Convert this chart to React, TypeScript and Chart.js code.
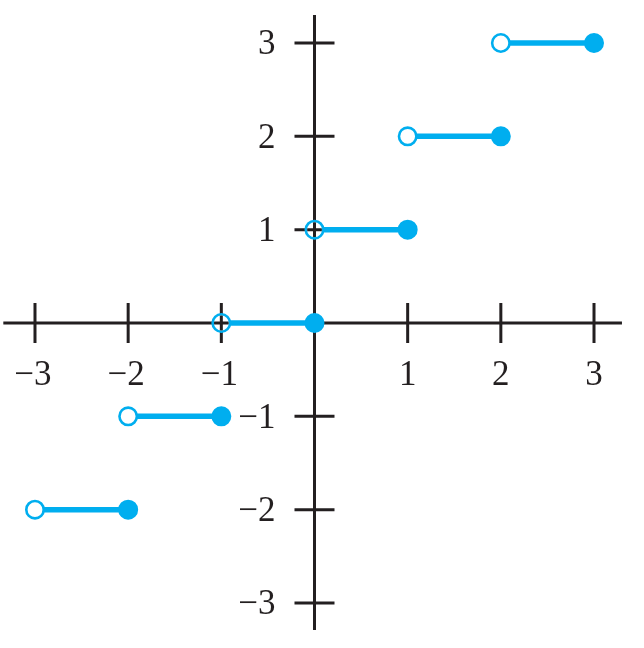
import React, { useEffect, useRef } from "react";
import { Chart, registerables } from "chart.js";

Chart.register(...registerables);

// Step function f(x) = ceil(x): each level has an open end (left) and closed end (right)
const levels = [-2, -1, 0, 1, 2, 3];
const openX = [-3, -2, -1, 0, 1, 2];
const closedX = [-2, -1, 0, 1, 2, 3];

const xTickValues = [-3, -2, -1, 1, 2, 3];
const yTickValues = [-3, -2, -1, 1, 2, 3];
const fmt = (v: number) => (v < 0 ? "\u2212" + Math.abs(v) : String(v));

// visible extent of drawn axes and the scale windows
const xAxisExtent = [-3.34, 3.3];
const yAxisExtent = [-3.29, 3.3];
const xScaleRange = [-3.3756, 3.5366];
const yScaleRange = [-3.4822, 3.4607];

const BLUE = "#00aeef";
const INK = "#231f20";
const OPEN_R = 8.7;
const OPEN_BW = 2.6;

function drawAxisLines(chart: any, withLabels: boolean) {
  const ctx = chart.ctx;
  const xs = chart.scales.x;
  const ys = chart.scales.y;
  const x0 = xs.getPixelForValue(0);
  const y0 = ys.getPixelForValue(0);
  ctx.save();
  ctx.strokeStyle = INK;
  ctx.lineCap = "butt";
  ctx.lineWidth = 3;
  ctx.beginPath();
  ctx.moveTo(xs.getPixelForValue(xAxisExtent[0]), y0);
  ctx.lineTo(xs.getPixelForValue(xAxisExtent[1]), y0);
  ctx.moveTo(x0, ys.getPixelForValue(yAxisExtent[0]));
  ctx.lineTo(x0, ys.getPixelForValue(yAxisExtent[1]));
  ctx.stroke();
  ctx.lineWidth = 3;
  ctx.beginPath();
  xTickValues.forEach((v) => {
    const px = xs.getPixelForValue(v);
    ctx.moveTo(px, y0 - 20);
    ctx.lineTo(px, y0 + 20);
  });
  yTickValues.forEach((v) => {
    const py = ys.getPixelForValue(v);
    ctx.moveTo(x0 - 20, py);
    ctx.lineTo(x0 + 20, py);
  });
  ctx.stroke();
  if (withLabels) {
    ctx.fillStyle = INK;
    ctx.font = '35px "Liberation Serif", "Times New Roman", serif';
    ctx.textAlign = "center";
    ctx.textBaseline = "middle";
    xTickValues.forEach((v) => {
      ctx.fillText(fmt(v), xs.getPixelForValue(v) - (v < 0 ? 2 : 0), y0 + 53);
    });
    ctx.textAlign = "right";
    yTickValues.forEach((v) => {
      ctx.fillText(fmt(v), x0 - 39, ys.getPixelForValue(v) + 2);
    });
  }
  ctx.restore();
}

const axesPlugin = {
  id: "centerAxes",
  beforeDatasetsDraw(chart: any) {
    drawAxisLines(chart, true);
  },
  afterDatasetsDraw(chart: any) {
    const idx = chart.data.datasets.findIndex((d: any) => d.label === "open");
    const meta = chart.getDatasetMeta(idx);
    const ctx = chart.ctx;
    meta.data.forEach((el: any) => {
      ctx.save();
      ctx.beginPath();
      ctx.arc(el.x, el.y, OPEN_R - OPEN_BW / 2, 0, Math.PI * 2);
      ctx.clip();
      drawAxisLines(chart, false);
      ctx.restore();
    });
  },
};

export default function App() {
  const ref = useRef<HTMLCanvasElement>(null);
  useEffect(() => {
    if (!ref.current) return;
    const segments = levels.map((lv, i) => ({
      label: "seg" + i,
      type: "line" as const,
      data: [
        { x: openX[i], y: lv },
        { x: closedX[i], y: lv },
      ],
      borderColor: BLUE,
      borderWidth: 5.5,
      pointRadius: 0,
      showLine: true,
      fill: false,
      order: 3,
    }));
    const chart = new Chart(ref.current, {
      type: "scatter",
      data: {
        datasets: [
          {
            label: "closed",
            data: levels.map((lv, i) => ({ x: closedX[i], y: lv })),
            backgroundColor: BLUE,
            borderColor: BLUE,
            borderWidth: 2,
            pointRadius: 9,
            order: 1,
          } as any,
          {
            label: "open",
            data: levels.map((lv, i) => ({ x: openX[i], y: lv })),
            backgroundColor: "#ffffff",
            borderColor: BLUE,
            borderWidth: OPEN_BW,
            pointRadius: OPEN_R,
            order: 2,
          } as any,
          ...segments,
        ],
      },
      options: {
        animation: false,
        responsive: false,
        maintainAspectRatio: false,
        layout: { padding: 0, autoPadding: false },
        plugins: { legend: { display: false }, tooltip: { enabled: false } },
        scales: {
          x: { type: "linear", min: xScaleRange[0], max: xScaleRange[1], display: false },
          y: { type: "linear", min: yScaleRange[0], max: yScaleRange[1], display: false },
        },
      },
      plugins: [axesPlugin],
    });
    return () => chart.destroy();
  }, []);
  return (
    <div style={{ position: "fixed", left: 0, top: 0, width: 644, height: 648, background: "#fff" }}>
      <canvas ref={ref} width={644} height={648} />
    </div>
  );
}
